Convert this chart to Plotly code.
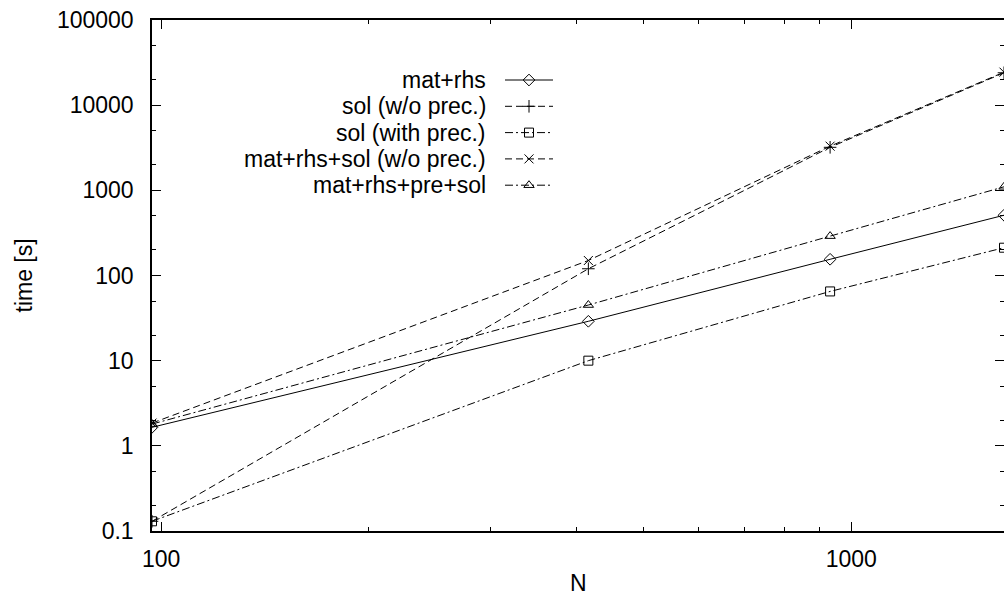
import math
import plotly.graph_objects as go

# ---------------- data ----------------
N = [97, 416, 932, 1665]
mat_rhs = [1.65, 29, 155, 510]
sol_wo_prec = [0.13, 120, 3200, 24000]
sol_with_prec = [0.13, 10, 65, 212]
mat_rhs_sol_wo = [1.85, 150, 3300, 24400]
mat_rhs_pre_sol = [1.8, 45, 290, 1100]

series_names = ["mat+rhs", "sol (w/o prec.)", "sol (with prec.)",
                "mat+rhs+sol (w/o prec.)", "mat+rhs+pre+sol"]
series_values = [mat_rhs, sol_wo_prec, sol_with_prec, mat_rhs_sol_wo, mat_rhs_pre_sol]

y_tickvals = [0.1, 1, 10, 100, 1000, 10000, 100000]
y_ticktext = ["0.1", "1", "10", "100", "1000", "10000", "100000"]
x_tickvals = [100, 1000]
x_ticktext = ["100", "1000"]

# ---------------- styles ----------------
symbols = ["diamond-open", "cross-thin-open", "square-open", "x-thin-open", "triangle-up-open"]
dashes = ["solid", "7px,4px", "8px,3px,2px,3px", "7px,4px", "8px,3px,2px,3px"]
FONT = dict(family="Liberation Sans, Arial, sans-serif", size=23, color="black")

W, H = 1004, 597
L, R, T, B = 152, 0, 20, 66

x_range = [math.log10(N[0]), math.log10(N[-1])]
y_range = [-1, 5]

fig = go.Figure()

for name, vals, sym, dash in zip(series_names, series_values, symbols, dashes):
    fig.add_trace(go.Scatter(
        x=N, y=vals, name=name, mode="lines+markers",
        line=dict(color="black", width=1, dash=dash),
        marker=dict(symbol=sym, size=9, color="black",
                    line=dict(color="black", width=1)),
        showlegend=False,
    ))

# invisible trace to carry the right-side tick axis
fig.add_trace(go.Scatter(x=[N[0]], y=[y_tickvals[0]], xaxis="x", yaxis="y3",
                         mode="markers", marker=dict(opacity=0),
                         hoverinfo="skip", showlegend=False))

# ---------------- gnuplot-style key (pixel-coordinate overlay axes) ----------------
key_row0, key_dy = 80, 26.3
key_text_right = 488
key_x0, key_x1 = 505, 553
for i, (name, sym, dash) in enumerate(zip(series_names, symbols, dashes)):
    yy = key_row0 + i * key_dy
    fig.add_trace(go.Scatter(
        x=[key_x0, key_x1], y=[yy, yy], xaxis="x2", yaxis="y2", mode="lines",
        line=dict(color="black", width=1, dash=dash),
        hoverinfo="skip", showlegend=False, cliponaxis=False))
    fig.add_trace(go.Scatter(
        x=[(key_x0 + key_x1) / 2], y=[yy], xaxis="x2", yaxis="y2", mode="markers",
        marker=dict(symbol=sym, size=9, color="black", line=dict(color="black", width=1)),
        hoverinfo="skip", showlegend=False, cliponaxis=False))
    fig.add_annotation(x=key_text_right, y=yy, xref="x2", yref="y2", text=name,
                       showarrow=False, xanchor="right", yanchor="middle", font=FONT)

# axis titles
fig.add_annotation(text="time [s]", xref="paper", yref="paper", x=0, y=0.5,
                   xshift=23 - L, textangle=-90, showarrow=False,
                   xanchor="center", yanchor="middle", font=FONT)
fig.add_annotation(text="N", xref="paper", yref="paper", x=0.5, y=0,
                   yshift=-52, showarrow=False, xanchor="center", yanchor="middle",
                   font=FONT)

minor_y = [m * 10 ** e for e in range(-1, 5) for m in (2, 5)]
minor_x = [m * 10 ** e for e in range(1, 4) for m in (2, 3, 4, 5, 6, 7, 8, 9)]

fig.update_layout(
    width=W, height=H,
    margin=dict(l=L, r=R, t=T, b=B, pad=0),
    paper_bgcolor="white", plot_bgcolor="white",
    font=FONT,
    showlegend=False,
    xaxis=dict(type="log", range=x_range, showgrid=False, zeroline=False,
               showline=True, linecolor="black", linewidth=1.5, mirror="ticks",
               ticks="inside", ticklen=9, tickwidth=1, tickcolor="black",
               tickvals=x_tickvals, ticktext=x_ticktext, ticklabelstandoff=7,
               minor=dict(tickvals=minor_x, ticks="inside", ticklen=4,
                          tickcolor="black", tickwidth=1, showgrid=False)),
    yaxis=dict(type="log", range=y_range, showgrid=False, zeroline=False,
               showline=True, linecolor="black", linewidth=1.5, mirror=False,
               ticks="inside", ticklen=9, tickwidth=1, tickcolor="black",
               tickvals=y_tickvals, ticktext=y_ticktext, ticklabelstandoff=12,
               minor=dict(tickvals=minor_y, ticks="inside", ticklen=4,
                          tickcolor="black", tickwidth=1, showgrid=False)),
    yaxis3=dict(type="log", range=y_range, overlaying="y", side="right", anchor="x",
                showgrid=False, zeroline=False, showline=False,
                ticks="inside", ticklen=9, tickwidth=1, tickcolor="black",
                tickvals=y_tickvals, showticklabels=False,
                minor=dict(tickvals=minor_y, ticks="inside", ticklen=4,
                           tickcolor="black", tickwidth=1, showgrid=False)),
    xaxis2=dict(range=[L, W - R], overlaying="x", anchor="y2", visible=False,
                showgrid=False, zeroline=False),
    yaxis2=dict(range=[H - B, T], overlaying="y", anchor="x2", visible=False,
                showgrid=False, zeroline=False),
)

fig.write_html("out.html")
